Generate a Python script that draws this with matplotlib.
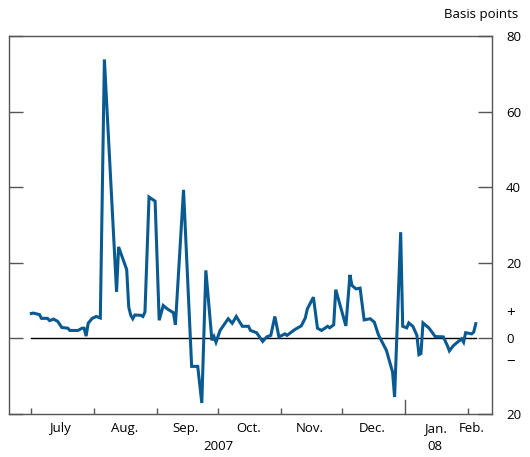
import matplotlib
matplotlib.use("Agg")
import matplotlib.pyplot as plt
import matplotlib.dates as mdates
import numpy as np

plt.rcParams['font.family'] = ['Open Sans', 'DejaVu Sans']

# Spread series, basis points
dates = [
    '2007-07-01', '2007-07-02', '2007-07-05', '2007-07-06', '2007-07-09', '2007-07-10',
    '2007-07-12', '2007-07-14', '2007-07-16', '2007-07-19', '2007-07-20', '2007-07-24',
    '2007-07-26', '2007-07-27', '2007-07-28', '2007-07-29', '2007-07-31', '2007-08-02',
    '2007-08-04', '2007-08-06', '2007-08-12', '2007-08-13', '2007-08-17', '2007-08-18',
    '2007-08-19', '2007-08-20', '2007-08-21', '2007-08-24', '2007-08-25', '2007-08-26',
    '2007-08-28', '2007-08-31', '2007-09-02', '2007-09-04', '2007-09-06', '2007-09-09',
    '2007-09-10', '2007-09-14', '2007-09-18', '2007-09-21', '2007-09-23', '2007-09-25',
    '2007-09-28', '2007-09-29', '2007-09-30', '2007-10-02', '2007-10-06', '2007-10-08',
    '2007-10-10', '2007-10-11', '2007-10-13', '2007-10-16', '2007-10-17', '2007-10-20',
    '2007-10-23', '2007-10-25', '2007-10-27', '2007-10-29', '2007-10-31', '2007-11-03',
    '2007-11-04', '2007-11-08', '2007-11-11', '2007-11-13', '2007-11-14', '2007-11-17',
    '2007-11-19', '2007-11-21', '2007-11-24', '2007-11-25', '2007-11-27', '2007-11-28',
    '2007-12-03', '2007-12-05', '2007-12-06', '2007-12-08', '2007-12-10', '2007-12-12',
    '2007-12-15', '2007-12-17', '2007-12-19', '2007-12-23', '2007-12-26', '2007-12-27',
    '2007-12-30', '2007-12-31', '2008-01-02', '2008-01-03', '2008-01-05', '2008-01-07',
    '2008-01-08', '2008-01-09', '2008-01-10', '2008-01-13', '2008-01-16', '2008-01-20',
    '2008-01-22', '2008-01-23', '2008-01-25', '2008-01-29', '2008-01-30', '2008-01-31',
    '2008-02-03', '2008-02-04', '2008-02-05',
]
values = [
    6.6, 6.7, 6.3, 5.3, 5.3, 4.7,
    5.1, 4.5, 2.9, 2.7, 2.1, 2.1,
    2.7, 2.7, 0.6, 4.0, 5.3, 5.8,
    5.4, 73.8, 12.3, 24.2, 18.2, 8.3,
    6.1, 5.2, 6.2, 6.1, 5.8, 7.0,
    37.4, 36.3, 4.8, 8.7, 7.8, 6.8,
    3.6, 39.3, -7.4, -7.4, -17.1, 18.0,
    -0.5, 0.5, -1.0, 2.1, 5.2, 4.0,
    5.8, 4.9, 3.2, 3.2, 2.1, 1.5,
    -0.8, 0.4, 0.8, 5.8, 0.4, 1.2,
    0.8, 2.4, 3.3, 5.4, 7.8, 10.9,
    2.7, 2.1, 3.2, 2.8, 3.6, 12.9,
    3.3, 16.8, 14.0, 13.1, 13.3, 4.9,
    5.2, 4.3, 1.0, -3.2, -8.9, -15.5,
    28.1, 3.2, 2.8, 4.1, 3.2, 0.8,
    -4.3, -4.0, 4.1, 2.7, 0.5, 0.4,
    -1.9, -3.3, -1.9, -0.1, -1.0, 1.5,
    1.2, 1.7, 3.9,
]

month_starts = ['2007-07-01', '2007-08-01', '2007-09-01', '2007-10-01',
                '2007-11-01', '2007-12-01', '2008-02-01']
year_start = '2008-01-01'
month_label_pos = ['2007-07-15', '2007-08-16', '2007-09-15', '2007-10-16',
                   '2007-11-15', '2007-12-16', '2008-01-16', '2008-02-03']
month_labels = ['July', 'Aug.', 'Sep.', 'Oct.', 'Nov.', 'Dec.', 'Jan.', 'Feb.']
year_labels = [('2007-10-01', '2007'), ('2008-01-16', '08')]

y_ticks = [-20, 0, 20, 40, 60, 80]
y_ticklabels = ['20', '0', '20', '40', '60', '80']

LINE = '#0a5a92'
SPINE = '#555555'


def main():
    x = np.array(dates, dtype='datetime64[D]')
    y = np.array(values)

    fig = plt.figure(figsize=(5.30, 4.57), dpi=100)
    ax = fig.add_axes([9 / 530, 43 / 457, 483 / 530, 378 / 457])

    ax.plot([x[0], x[-1]], [0, 0], color='black', lw=1.0, zorder=2)
    ax.plot(x, y, color=LINE, lw=2.2, solid_joinstyle='miter', zorder=3)

    ax.set_xlim(np.datetime64('2007-06-20'), np.datetime64('2008-02-13'))
    ax.set_ylim(-20, 80)

    for s in ax.spines.values():
        s.set_color(SPINE)
        s.set_linewidth(1.0)

    # y axis: labels on the right, inward ticks both sides
    ax.yaxis.tick_right()
    ax.set_yticks(y_ticks)
    ax.set_yticklabels(y_ticklabels, fontsize=9.5)
    ax.tick_params(axis='y', which='major', direction='in', length=10,
                   width=1.0, color=SPINE, left=True, right=True,
                   labelleft=False, labelright=True, pad=10)
    for lab in ax.get_yticklabels():
        lab.set_horizontalalignment('left')
    ax.text(1.03, 6.5, '+', transform=ax.get_yaxis_transform(),
            ha='left', va='center', fontsize=11)
    ax.text(1.03, -6.5, '\u2212', transform=ax.get_yaxis_transform(),
            ha='left', va='center', fontsize=11)
    ax.text(1.055, 1.04, 'Basis points', transform=ax.transAxes,
            ha='right', va='bottom', fontsize=9.5)

    # x axis: month ticks inside, labels centred between them
    ax.set_xticks(np.array(month_starts, dtype='datetime64[D]'))
    ax.set_xticklabels([])
    ax.set_xticks(np.array(month_label_pos, dtype='datetime64[D]'), minor=True)
    ax.set_xticklabels(month_labels, minor=True, fontsize=9.5)
    ax.tick_params(axis='x', which='major', direction='in', length=4.5,
                   width=1.0, color=SPINE)
    ax.tick_params(axis='x', which='minor', length=0, pad=6)
    jan = np.datetime64(year_start)
    ax.plot([jan, jan], [0, 14 / 378], transform=ax.get_xaxis_transform(),
            color=SPINE, lw=1.0, clip_on=False)
    for pos, lab in year_labels:
        ax.text(np.datetime64(pos), -0.085, lab,
                transform=ax.get_xaxis_transform(),
                ha='center', va='center', fontsize=9.5)

    fig.savefig('out.png', dpi=100)
    plt.close(fig)


if __name__ == '__main__':
    main()
